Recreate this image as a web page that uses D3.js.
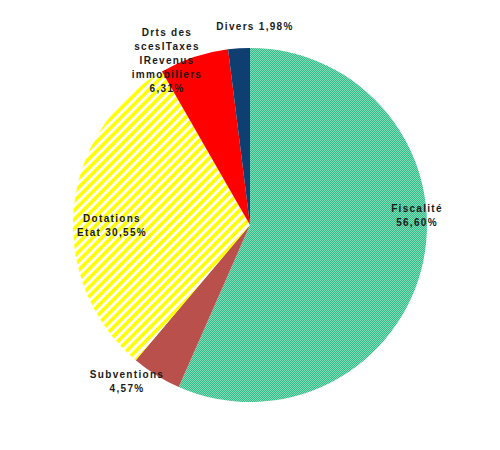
<!DOCTYPE html>
<html>
<head>
<meta charset="utf-8">
<script src="https://cdn.jsdelivr.net/npm/d3@7"></script>
<style>
  html, body { margin: 0; padding: 0; background: #fff; }
  svg { display: block; }
</style>
</head>
<body>
<script>
// ---- data ----
const categories = ["Fiscalité", "Subventions", "Dotations Etat", "Drts des sces/Taxes /Revenus immobiliers", "Divers"];
const values = [56.60, 4.57, 30.55, 6.31, 1.98];
const labelLines = [
  ["Fiscalité", "56,60%"],
  ["Subventions", "4,57%"],
  ["Dotations", "Etat 30,55%"],
  ["Drts des", "scesITaxes", "IRevenus", "immobiliers", "6,31%"],
  ["Divers 1,98%"]
];

// ---- layout / style ----
const W = 500, H = 450;
const cx = 250, cy = 225, R = 177;
const fills = ["url(#checkGreen)", "#b9504c", "url(#stripeYellow)", "#ff0000", "#0e3f70"];
// label anchor (relative to pie centre), first line baseline
const labelAnchors = [
  [167, -13],
  [-123, 153],
  [-138, -3],
  [-83, -189],
  [5, -195]
];
const lineH = 14;

const svg = d3.select("body").append("svg").attr("width", W).attr("height", H);
const defs = svg.append("defs");

const pg = defs.append("pattern").attr("id", "checkGreen")
  .attr("patternUnits", "userSpaceOnUse").attr("width", 2).attr("height", 2);
pg.append("rect").attr("width", 2).attr("height", 2).attr("fill", "#84dab7");
pg.append("rect").attr("x", 0).attr("y", 0).attr("width", 1).attr("height", 1).attr("fill", "#30bd89");
pg.append("rect").attr("x", 1).attr("y", 1).attr("width", 1).attr("height", 1).attr("fill", "#30bd89");

const ps = defs.append("pattern").attr("id", "stripeYellow")
  .attr("patternUnits", "userSpaceOnUse").attr("width", 6.5).attr("height", 6.5)
  .attr("patternTransform", "rotate(45)");
ps.append("rect").attr("width", 6.5).attr("height", 6.5).attr("fill", "#ffffff");
ps.append("rect").attr("width", 3.6).attr("height", 6.5).attr("fill", "#ffff00");

const pie = d3.pie().sort(null).value(d => d)(values);
const arc = d3.arc().innerRadius(0).outerRadius(R);

const g = svg.append("g").attr("transform", `translate(${cx},${cy})`);
g.selectAll("path.slice").data(pie).enter().append("path")
  .attr("class", "slice")
  .attr("d", arc)
  .attr("fill", (d, i) => fills[i]);

const lg = g.selectAll("text.lbl").data(pie).enter().append("text")
  .attr("class", "lbl")
  .attr("text-anchor", "middle")
  .attr("font-family", "Liberation Sans, Arial, sans-serif")
  .attr("font-size", 10)
  .attr("font-weight", "bold")
  .attr("letter-spacing", 1.3)
  .attr("fill", "#1b1b1b")
  .attr("transform", (d, i) => `translate(${labelAnchors[i][0]},${labelAnchors[i][1]})`);
lg.each(function(d, i) {
  const t = d3.select(this);
  labelLines[i].forEach((s, j) => {
    t.append("tspan").attr("x", 0).attr("y", j * lineH).text(s);
  });
});
</script>
</body>
</html>
